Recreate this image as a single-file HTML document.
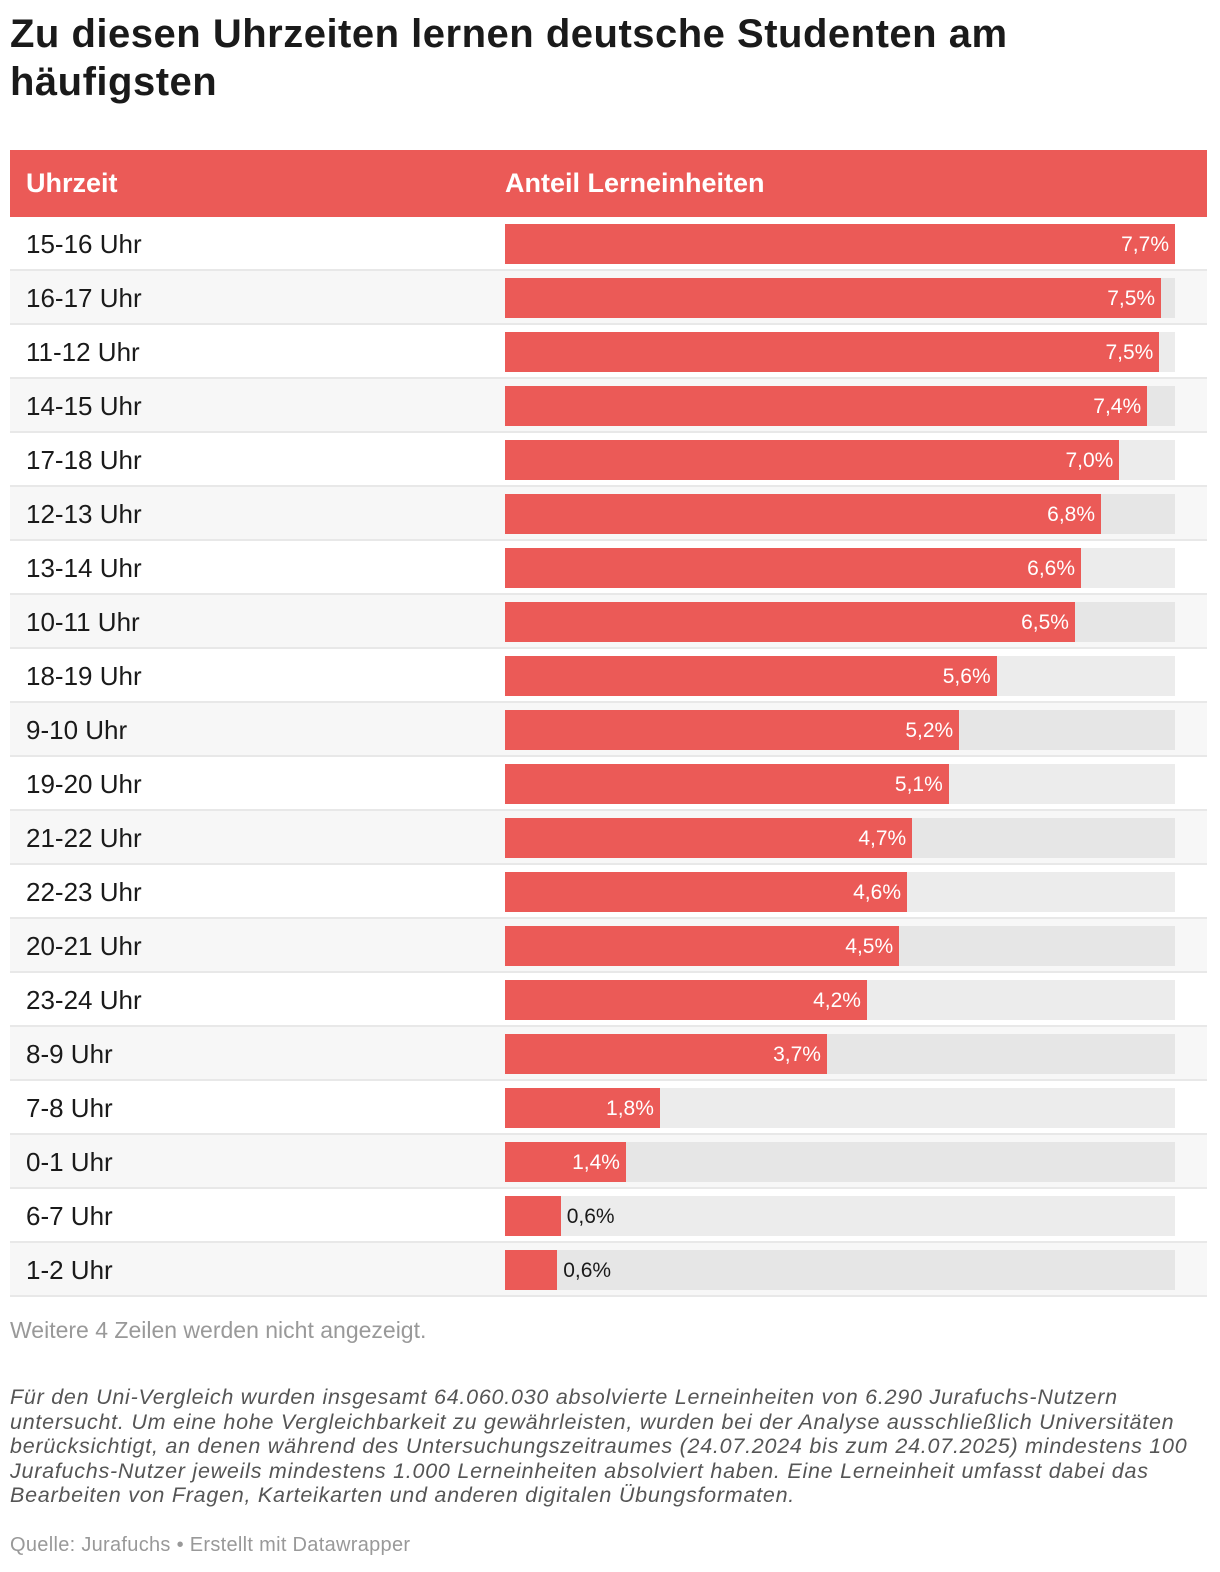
<!DOCTYPE html>
<html><head><meta charset="utf-8">
<style>
body{margin:0;background:#fff;font-family:"Liberation Sans",sans-serif;width:1220px;height:1572px;overflow:hidden;position:relative}
h1{position:absolute;left:10px;top:10px;margin:0;font-size:40px;line-height:48px;font-weight:bold;color:#1a1a1a;letter-spacing:0.5px;width:1080px}
#hdr{position:absolute;left:10px;top:150px;width:1197px;height:67px;background:#eb5a57;color:#fff;font-weight:bold;font-size:27px}
#hdr span{position:absolute;top:18px}
.row{position:absolute;left:10px;width:1197px;height:52px;border-bottom:2px solid #e8e8e8}
.lab{position:absolute;left:16px;top:12px;font-size:26px;color:#1a1a1a}
.track{position:absolute;left:495px;top:7px;width:670px;height:40px}
.bar{position:absolute;left:0;top:0;height:40px;background:#eb5a57}
.val{position:absolute;top:9px;font-size:21px}
.note{position:absolute;left:10px;color:#999;font-size:23px}
.foot{position:absolute;left:10px;top:1385px;width:1210px;font-size:21.5px;line-height:24.5px;color:#555;font-style:italic;letter-spacing:0.75px;white-space:nowrap}
.src{position:absolute;left:10px;top:1534px;font-size:20px;color:#999;letter-spacing:0.3px}
</style></head><body>
<h1>Zu diesen Uhrzeiten lernen deutsche Studenten am häufigsten</h1>
<div id="hdr"><span style="left:16px">Uhrzeit</span><span style="left:495px">Anteil Lerneinheiten</span></div>
<div id="rows"></div>
<div class="note" style="top:1317px">Weitere 4 Zeilen werden nicht angezeigt.</div>
<div class="foot">Für den Uni-Vergleich wurden insgesamt 64.060.030 absolvierte Lerneinheiten von 6.290 Jurafuchs-Nutzern<br>untersucht. Um eine hohe Vergleichbarkeit zu gewährleisten, wurden bei der Analyse ausschließlich Universitäten<br>berücksichtigt, an denen während des Untersuchungszeitraumes (24.07.2024 bis zum 24.07.2025) mindestens 100<br>Jurafuchs-Nutzer jeweils mindestens 1.000 Lerneinheiten absolviert haben. Eine Lerneinheit umfasst dabei das<br>Bearbeiten von Fragen, Karteikarten und anderen digitalen Übungsformaten.</div>
<div class="src">Quelle: Jurafuchs • Erstellt mit Datawrapper</div>
<script>
const categories=["15-16 Uhr","16-17 Uhr","11-12 Uhr","14-15 Uhr","17-18 Uhr","12-13 Uhr","13-14 Uhr","10-11 Uhr","18-19 Uhr","9-10 Uhr","19-20 Uhr","21-22 Uhr","22-23 Uhr","20-21 Uhr","23-24 Uhr","8-9 Uhr","7-8 Uhr","0-1 Uhr","6-7 Uhr","1-2 Uhr"];
const values=[7.70,7.54,7.52,7.38,7.06,6.85,6.62,6.55,5.65,5.22,5.10,4.68,4.62,4.53,4.16,3.70,1.78,1.39,0.64,0.60];
const labels=["7,7%","7,5%","7,5%","7,4%","7,0%","6,8%","6,6%","6,5%","5,6%","5,2%","5,1%","4,7%","4,6%","4,5%","4,2%","3,7%","1,8%","1,4%","0,6%","0,6%"];
const maxV=Math.max(...values);
const x=v=>v/maxV*670;
const cont=document.getElementById('rows');
categories.forEach((c,i)=>{
  const r=document.createElement('div');r.className='row';
  
  
  r.style.top=(217+i*54)+'px';
  r.style.background=i%2?'#f7f7f7':'#fff';
  const l=document.createElement('div');l.className='lab';l.textContent=c;
  
  
  const t=document.createElement('div');t.className='track';t.style.background=i%2?'#e6e6e6':'#ececec';
  
  
  const b=document.createElement('div');b.className='bar';const w=x(values[i]);b.style.width=w+'px';
  
  
  const v=document.createElement('div');v.className='val';v.textContent=labels[i];
  
  
  if(w>90){v.style.right=(670-w+6)+'px';v.style.color='#fff';}
  else{v.style.left=(w+6)+'px';v.style.color='#1a1a1a';}
  t.appendChild(b);t.appendChild(v);r.appendChild(l);r.appendChild(t);cont.appendChild(r);
});
</script>
</body></html>
